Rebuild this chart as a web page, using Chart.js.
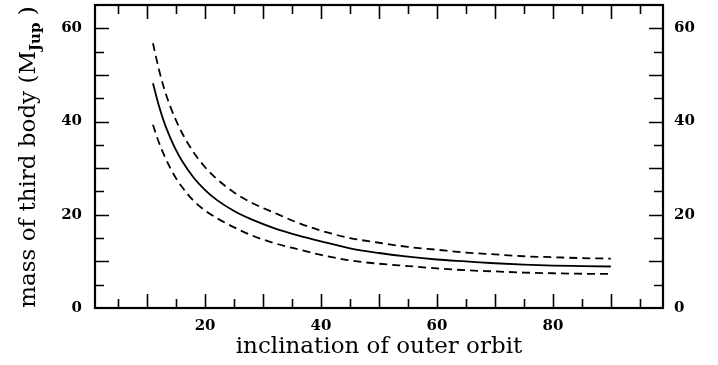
<!DOCTYPE html>
<html>
<head>
  <title>Third body mass vs inclination</title>
  <script src="https://cdn.jsdelivr.net/npm/chart.js"></script>
  <style>
    body { margin: 0; background: #fff; }
    canvas { display: block; }
  </style>
</head>
<body>
  <canvas id="massChart" width="718" height="365"></canvas>
  <script>
    // inclination of the outer orbit (deg) and the mass of the third body (M_Jup)
    var inclination = [11, 12, 13, 14, 15, 16, 18, 20, 22, 25, 28, 32, 36, 40, 45, 50, 55, 60, 65, 70, 75, 80, 85, 90];
    var massBest  = [48.2, 43.5, 39.6, 36.5, 33.8, 31.6, 28.0, 25.3, 23.2, 20.8, 19.0, 17.1, 15.6, 14.3, 12.8, 11.8, 11.0, 10.4, 10.0, 9.6, 9.3, 9.1, 9.0, 8.9];
    var massUpper = [56.8, 51.3, 46.8, 43.2, 40.2, 37.6, 33.4, 30.2, 27.7, 24.8, 22.6, 20.4, 18.3, 16.6, 15.0, 14.0, 13.1, 12.5, 11.9, 11.5, 11.1, 10.9, 10.7, 10.6];
    var massLower = [39.3, 35.6, 32.6, 30.0, 27.8, 26.0, 23.0, 20.9, 19.3, 17.3, 15.6, 13.9, 12.6, 11.4, 10.2, 9.5, 9.0, 8.5, 8.1, 7.85, 7.6, 7.45, 7.35, 7.3];

    var xTickLabels = [20, 40, 60, 80];
    var yTickLabels = [0, 20, 40, 60];

    var serif = "'DejaVu Serif', 'Liberation Serif', serif";

    function points(ys) {
      var out = [];
      for (var i = 0; i < inclination.length; i++) {
        out.push({ x: inclination[i], y: ys[i] });
      }
      return out;
    }

    function every5(from, to) {
      var t = [];
      for (var v = from; v <= to; v += 5) t.push({ value: v });
      return t;
    }

    // frame with inward ticks on all four sides, plus the y title with its subscript
    var framePlugin = {
      id: 'frame',
      afterDraw: function (chart) {
        var ctx = chart.ctx;
        var a = chart.chartArea;
        var xs = chart.scales.x;
        var ys = chart.scales.y;
        ctx.save();
        ctx.strokeStyle = '#000';
        ctx.lineWidth = 1.6;
        ctx.beginPath();
        for (var v = 5; v <= 95; v += 5) {
          var px = Math.round(xs.getPixelForValue(v)) + 0.5;
          var len = v % 10 === 0 ? 14 : 9;
          ctx.moveTo(px, a.bottom); ctx.lineTo(px, a.bottom - len);
          ctx.moveTo(px, a.top); ctx.lineTo(px, a.top + len);
        }
        for (var w = 5; w <= 60; w += 5) {
          var py = Math.round(ys.getPixelForValue(w)) + 0.5;
          var l2 = w % 10 === 0 ? 14 : 9;
          ctx.moveTo(a.left, py); ctx.lineTo(a.left + l2, py);
          ctx.moveTo(a.right, py); ctx.lineTo(a.right - l2, py);
        }
        ctx.stroke();

        ctx.lineWidth = 2.2;
        ctx.strokeRect(a.left, a.top, a.right - a.left, a.bottom - a.top);

        // rotated y title: "mass of third body (M" + subscript "Jup" + " )"
        var main = 'mass of third body (M';
        var sub = 'Jup';
        var tail = ' )';
        ctx.translate(29, 157);
        ctx.rotate(-Math.PI / 2);
        ctx.fillStyle = '#000';
        ctx.textBaseline = 'middle';
        ctx.font = '23px ' + serif;
        var wMain = ctx.measureText(main).width;
        var wTail = ctx.measureText(tail).width;
        ctx.font = 'bold 15px ' + serif;
        var wSub = ctx.measureText(sub).width;
        var x0 = -(wMain + wSub + wTail) / 2;
        ctx.font = '23px ' + serif;
        ctx.fillText(main, x0, 0);
        ctx.font = 'bold 15px ' + serif;
        ctx.fillText(sub, x0 + wMain, 7);
        ctx.font = '23px ' + serif;
        ctx.fillText(tail, x0 + wMain + wSub, 0);
        ctx.restore();
      }
    };

    var lineStyle = {
      borderColor: '#000',
      borderWidth: 1.8,
      pointRadius: 0,
      fill: false,
      cubicInterpolationMode: 'monotone'
    };

    var tickFont = { family: serif, size: 15, weight: 'bold' };

    new Chart(document.getElementById('massChart').getContext('2d'), {
      type: 'line',
      data: {
        datasets: [
          Object.assign({ label: 'best', data: points(massBest) }, lineStyle),
          Object.assign({ label: 'upper', data: points(massUpper), borderDash: [8, 5] }, lineStyle),
          Object.assign({ label: 'lower', data: points(massLower), borderDash: [8, 5] }, lineStyle)
        ]
      },
      options: {
        responsive: false,
        animation: false,
        devicePixelRatio: 1,
        layout: { padding: { top: 5, left: 0, right: 0, bottom: 0 } },
        plugins: { legend: { display: false }, tooltip: { enabled: false } },
        scales: {
          x: {
            type: 'linear',
            position: 'bottom',
            min: 1,
            max: 99,
            afterBuildTicks: function (s) { s.ticks = every5(5, 95); },
            afterFit: function (s) { s.height = 57; s.paddingLeft = 0; s.paddingRight = 0; },
            grid: { drawOnChartArea: false, drawTicks: false },
            border: { display: false },
            ticks: {
              autoSkip: false,
              maxRotation: 0,
              padding: 9,
              color: '#000',
              font: tickFont,
              callback: function (v) { return xTickLabels.indexOf(v) >= 0 ? String(v) : ''; }
            },
            title: {
              display: true,
              text: 'inclination of outer orbit',
              color: '#000',
              font: { family: serif, size: 23 },
              padding: { top: 0, bottom: 4 }
            }
          },
          y: {
            type: 'linear',
            position: 'left',
            min: 0,
            max: 65,
            afterBuildTicks: function (s) { s.ticks = every5(0, 60); },
            afterFit: function (s) { s.width = 95; s.paddingTop = 0; s.paddingBottom = 0; },
            grid: { drawOnChartArea: false, drawTicks: false },
            border: { display: false },
            ticks: {
              autoSkip: false,
              padding: 13,
              color: '#000',
              font: tickFont,
              callback: function (v) { return yTickLabels.indexOf(v) >= 0 ? String(v) : ''; }
            }
          },
          y2: {
            type: 'linear',
            position: 'right',
            min: 0,
            max: 65,
            afterBuildTicks: function (s) { s.ticks = every5(0, 60); },
            afterFit: function (s) { s.width = 55; s.paddingTop = 0; s.paddingBottom = 0; },
            grid: { drawOnChartArea: false, drawTicks: false },
            border: { display: false },
            ticks: {
              autoSkip: false,
              padding: 11,
              color: '#000',
              font: tickFont,
              callback: function (v) { return yTickLabels.indexOf(v) >= 0 ? String(v) : ''; }
            }
          }
        }
      },
      plugins: [framePlugin]
    });
  </script>
</body>
</html>
